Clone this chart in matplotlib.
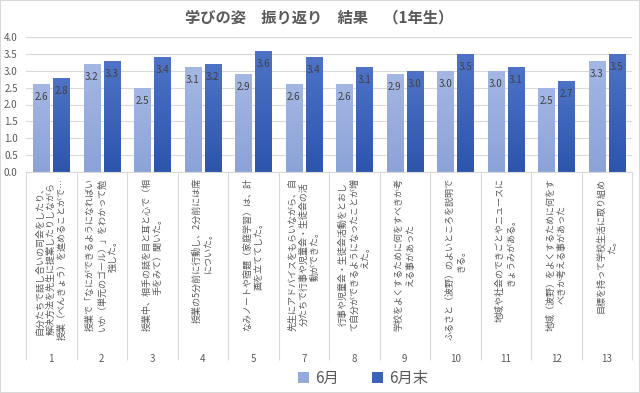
import numpy as np
import matplotlib.pyplot as plt
from matplotlib.colors import LinearSegmentedColormap
from matplotlib.patches import Rectangle

plt.rcParams['font.family'] = ['Noto Sans CJK JP', 'DejaVu Sans']

# data
item_no = ['1', '2', '3', '4', '5', '7', '8', '9', '10', '11', '12', '13']
item_text = [
    '自分たちで話し合いの司会をしたり、\n解決方法を先生に提案したりしながら\n授業（べんきょう）を進めることがで…',
    '授業で「なにができるようになればい\nいか（単元のゴール）」をわかって勉\n強した。',
    '授業中、相手の話を目と耳と心で（相\n手をみて）聞いた。',
    '授業の5分前に行動し、2分前には席\nについた。',
    'なみノートや宿題（家庭学習）は、計\n画を立ててした。',
    '先生にアドバイスをもらいながら、自\n分たちで行事や児童会・生徒会の活\n動ができた。',
    '行事や児童会・生徒会活動をとおし\nて自分ができるようになったことが増\nえた。',
    '学校をよくするために何をすべきか考\nえる事があった',
    'ふるさと（波野）のよいところを説明で\nきる。',
    '地域や社会のできごとやニュースに\nきょうみがある。',
    '地域（波野）をよくするために何をす\nべきか考える事があった',
    '目標を持って学校生活に取り組め\nた。',
]
june = [2.6, 3.2, 2.5, 3.1, 2.9, 2.6, 2.6, 2.9, 3.0, 3.0, 2.5, 3.3]
june_end = [2.8, 3.3, 3.4, 3.2, 3.6, 3.4, 3.1, 3.0, 3.5, 3.1, 2.7, 3.5]
series_names = ['6月', '6月末']
title = '学びの姿　振り返り　結果　（1年生）'

W, H = 640, 393
fig = plt.figure(figsize=(W / 100, H / 100), dpi=100)
ax = fig.add_axes([26 / W, 1 - 172 / H, 606 / W, 135 / H])

x = np.arange(len(item_no))
bw = 0.32
b1 = ax.bar(x - 0.2, june, bw, color='#94AADC', label=series_names[0], zorder=2)
b2 = ax.bar(x + 0.2, june_end, bw, color='#3D62B8', label=series_names[1], zorder=2)

# gradient fill on each bar
grad = np.linspace(0, 1, 64).reshape(-1, 1)
cm1 = LinearSegmentedColormap.from_list('c1', ['#A4B7E4', '#8CA3D8'])
cm2 = LinearSegmentedColormap.from_list('c2', ['#4E73C6', '#2D55AC'])
for bars, cm in [(b1, cm1), (b2, cm2)]:
    for r in bars:
        x0, w, h = r.get_x(), r.get_width(), r.get_height()
        im = ax.imshow(grad, extent=[x0, x0 + w, 0, h], cmap=cm, aspect='auto',
                       origin='upper', zorder=2.1)
        im.set_clip_path(r)
    ax.bar_label(bars, fmt='%.1f', padding=-13, fontsize=7, color='#404040', zorder=3)

ax.set_xlim(-0.5, len(item_no) - 0.5)
ax.set_ylim(0, 4.0)
ax.set_yticks(np.arange(0, 4.01, 0.5))
ax.yaxis.set_major_formatter(plt.FormatStrFormatter('%.1f'))
ax.tick_params(axis='y', length=0, labelsize=7, labelcolor='#595959', pad=6)
ax.yaxis.grid(True, color='#D9D9D9', lw=0.8)
ax.set_axisbelow(True)
for s in ['left', 'right', 'top']:
    ax.spines[s].set_visible(False)
ax.spines['bottom'].set_color('#D9D9D9')

# category numbers and separators
ax.set_xticks(x)
ax.set_xticklabels(item_no)
ax.tick_params(axis='x', which='major', length=0, labelsize=7, labelcolor='#595959', pad=131)
ax.set_xticks(np.arange(-0.5, len(item_no), 1), minor=True)
ax.tick_params(axis='x', which='minor', length=135, color='#D9D9D9', width=0.8)

for xi, t in zip(x, item_text):
    ax.annotate(t, xy=(xi, 0), xycoords=('data', 'axes fraction'),
                xytext=(0, -4), textcoords='offset points',
                rotation=90, ha='center', va='top', multialignment='center',
                fontsize=6.5, color='#595959', linespacing=1.3)

fig.text(0.499, 1 - 17 / H, title, ha='center', va='center', fontsize=11,
         weight='bold', color='#595959')

fig.legend(handles=[b1, b2], labels=series_names, loc='center',
           bbox_to_anchor=(363 / W, 1 - 378 / H), ncol=2, frameon=False,
           fontsize=11, handlelength=0.7, handleheight=0.7, handletextpad=0.4,
           columnspacing=2.2, labelcolor='#595959')

fig.patches.append(Rectangle((0, 0), 1, 1, transform=fig.transFigure, fill=False,
                             edgecolor='#D9D9D9', lw=1.5))

fig.savefig('out.png', dpi=100)
